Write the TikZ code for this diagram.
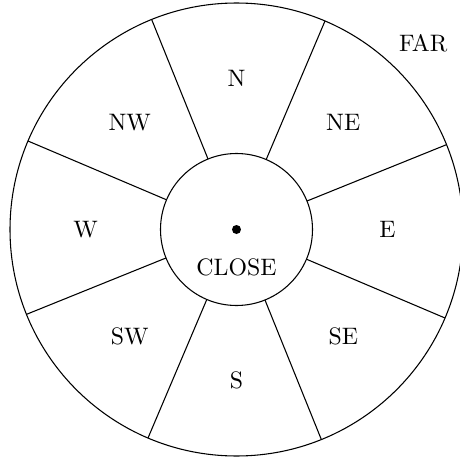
\documentclass[tikz,border=0pt]{standalone}
\usetikzlibrary{calc}
\begin{document}
\begin{tikzpicture}[x=0.42pt,y=-0.42pt,
  ring/.style={draw,circle,inner sep=0pt,outer sep=0pt,line width=0.45pt},
  lbl/.style={font=\fontsize{10}{12}\selectfont,inner sep=0pt},
  spoke/.style={line width=0.45pt}]
\useasboundingbox (0,0) rectangle (460,459);
\coordinate (c) at (236.5,229.5);
\node[ring,minimum size=453*0.42pt] (outer) at (c) {};
\node[ring,minimum size=152*0.42pt] (inner) at (c) {};
\fill (c) circle[radius=4.5];
\foreach \a in {22.5,67.5,112.5,157.5,202.5,247.5,292.5,337.5}{
  \draw[spoke] (inner.\a) -- (outer.\a);
}
\node[lbl] (n)  at ($(c)+(-90:151)$)  {N};
\node[lbl] (ne) at ($(c)+(-45:151)$)  {NE};
\node[lbl] (e)  at ($(c)+(0:151)$)   {E};
\node[lbl] (se) at ($(c)+(45:151)$) {SE};
\node[lbl] (s)  at ($(c)+(90:151)$) {S};
\node[lbl] (sw) at ($(c)+(135:151)$) {SW};
\node[lbl] (w)  at ($(c)+(180:151)$) {W};
\node[lbl] (nw) at ($(c)+(-135:151)$) {NW};
\node[lbl] (close) at ($(c)+(0,38)$) {CLOSE};
\node[lbl] (far) at ($(c)+(-45:264)$) {FAR};
\end{tikzpicture}
\end{document}
